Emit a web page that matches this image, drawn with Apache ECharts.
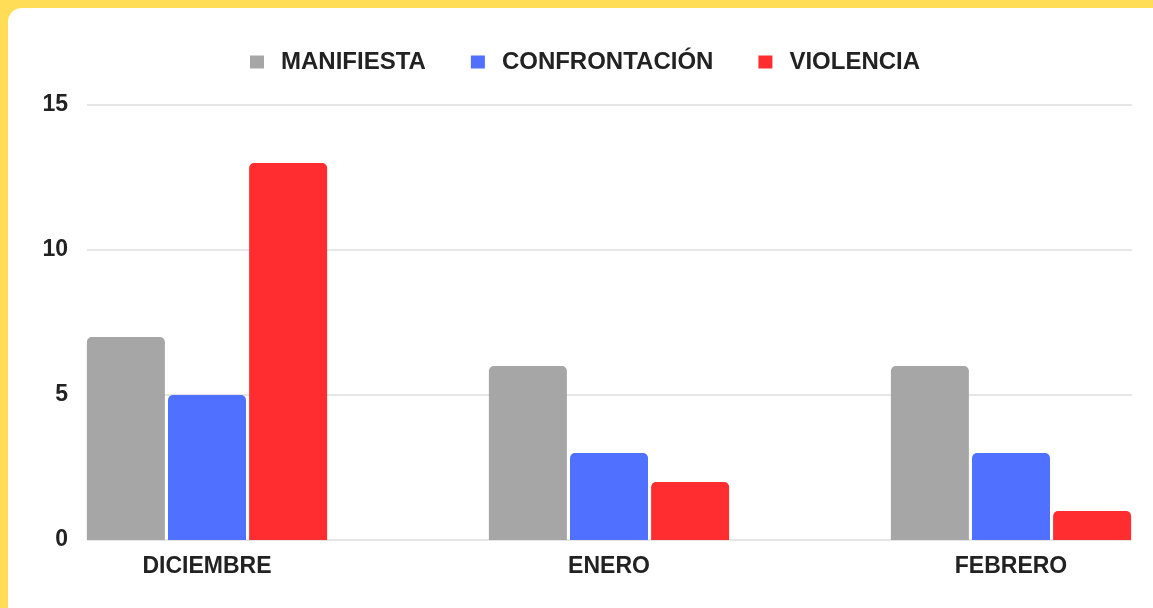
<!DOCTYPE html>
<html>
<head>
<meta charset="utf-8">
<script src="https://cdn.jsdelivr.net/npm/echarts@6/dist/echarts.min.js"></script>
<style>
  html, body { margin: 0; padding: 0; background: #ffdd57; }
  .card {
    position: absolute; left: 8px; top: 8px;
    width: 1160px; height: 620px;
    background: #fff; border-radius: 14px;
  }
  .chartBox { position: absolute; left: 0; top: 0; width: 1153px; height: 608px; }
</style>
</head>
<body>
<div class="card"></div>
<div class="chartBox" id="main"></div>
<script>
var categories = ['DICIEMBRE', 'ENERO', 'FEBRERO']
var manifiesta = [7, 6, 6]
var confrontacion = [5, 3, 3]
var violencia = [13, 2, 1]
var yTicks = [0, 5, 10, 15]

var font = '"Liberation Sans", Arial, sans-serif'
var myChart = echarts.init(document.getElementById('main'))

function barSeries (name, data, color) {
  return {
    name: name,
    type: 'bar',
    xAxisIndex: 1,
    yAxisIndex: 1,
    data: data,
    barWidth: 78,
    barGap: '4%',
    itemStyle: { color: color, borderRadius: [5, 5, 0, 0] }
  }
}

var option = {
  animation: false,
  legend: {
    top: 45,
    left: 245,
    icon: 'rect',
    itemWidth: 14,
    itemHeight: 13,
    itemGap: 45,
    textStyle: {
      fontFamily: font, fontWeight: 'bold', fontSize: 24, color: '#222',
      padding: [0, 0, 0, 12]
    },
    data: ['MANIFIESTA', 'CONFRONTACIÓN', 'VIOLENCIA']
  },
  grid: [
    // grid for gridlines + y labels
    { left: 87, right: 21, top: 105, bottom: 68 },
    // grid for bars (groups centered at 207, 610, 1012)
    { left: 6, width: 1206, top: 105, bottom: 68, outerBoundsMode: 'none' }
  ],
  xAxis: [
    { type: 'category', gridIndex: 0, data: categories, show: false },
    {
      type: 'category', gridIndex: 1, data: categories,
      axisLine: { show: false }, axisTick: { show: false },
      axisLabel: { margin: 15, fontFamily: font, fontWeight: 'bold', fontSize: 23, color: '#222' }
    }
  ],
  yAxis: [
    {
      type: 'value', gridIndex: 0, min: yTicks[0], max: yTicks[yTicks.length - 1], interval: 5,
      axisLine: { show: false }, axisTick: { show: false },
      axisLabel: { margin: 19, fontFamily: font, fontWeight: 'bold', fontSize: 23, color: '#222' },
      splitLine: { lineStyle: { color: '#e6e6e6', width: 2 } }
    },
    {
      type: 'value', gridIndex: 1, min: 0, max: 15, interval: 5, show: false,
      splitLine: { show: false }
    }
  ],
  series: [
    barSeries('MANIFIESTA', manifiesta, '#a6a6a6'),
    barSeries('CONFRONTACIÓN', confrontacion, '#5070ff'),
    barSeries('VIOLENCIA', violencia, '#ff2d2f')
  ]
}
myChart.setOption(option)
</script>
</body>
</html>
